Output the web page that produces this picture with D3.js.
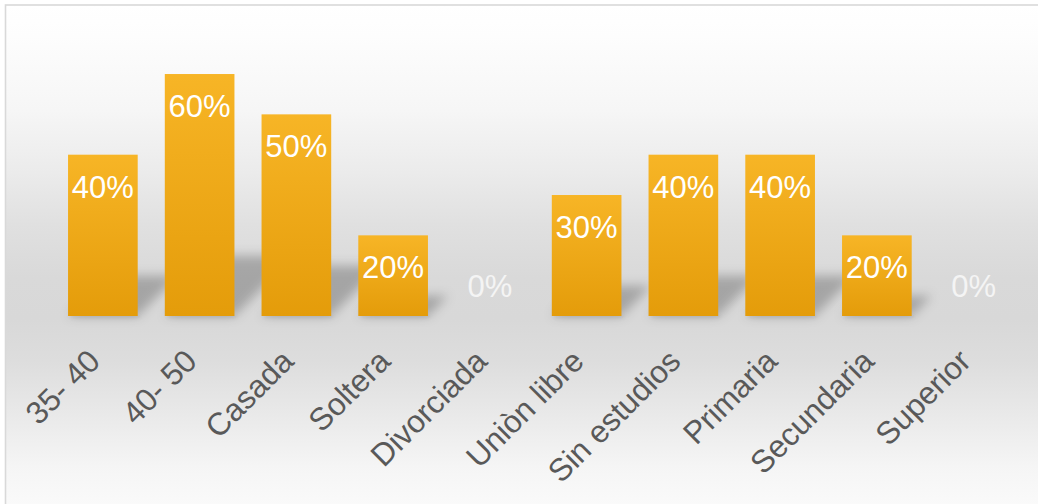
<!DOCTYPE html>
<html>
<head>
<meta charset="utf-8">
<script src="https://cdn.jsdelivr.net/npm/d3@7"></script>
<style>
  html, body { margin: 0; padding: 0; background: #ffffff; }
  svg { display: block; }
</style>
</head>
<body>
<svg id="chart" width="1038" height="504"></svg>
<script>
// Profile of the group: age, marital status and schooling (share of women)
const categories = ["35- 40", "40- 50", "Casada", "Soltera", "Divorciada",
                    "Uniòn libre", "Sin estudios", "Primaria", "Secundaria", "Superior"];
const values = [0.40, 0.60, 0.50, 0.20, 0.00, 0.30, 0.40, 0.40, 0.20, 0.00];
const valueLabels = ["40%", "60%", "50%", "20%", "0%", "30%", "40%", "40%", "20%", "0%"];

const svg = d3.select("#chart");
const W = 1038, H = 504;

const defs = svg.append("defs");

// chart area background: white at the top, grey band behind the bar bases, white again below
const bg = defs.append("linearGradient")
  .attr("id", "bgGrad").attr("x1", 0).attr("y1", 0).attr("x2", 0).attr("y2", 1);
[[0, "#ffffff"], [0.06, "#fdfdfd"], [0.2, "#f6f6f6"], [0.32, "#ebebeb"],
 [0.42, "#e0e0e0"], [0.52, "#d9d9d9"], [0.6, "#d8d8d8"], [0.68, "#dddddd"],
 [0.78, "#e9e9e9"], [0.88, "#f5f5f5"], [1, "#fdfdfd"]]
  .forEach(([o, c]) => bg.append("stop").attr("offset", o).attr("stop-color", c));

// bar fill: lighter orange at the top to deeper orange at the base
const barGrad = defs.append("linearGradient")
  .attr("id", "barGrad").attr("x1", 0).attr("y1", 0).attr("x2", 0).attr("y2", 1);
barGrad.append("stop").attr("offset", 0).attr("stop-color", "#f7b526");
barGrad.append("stop").attr("offset", 1).attr("stop-color", "#e49c0a");

const blur = defs.append("filter").attr("id", "softShadow")
  .attr("x", "-50%").attr("y", "-50%").attr("width", "200%").attr("height", "200%");
blur.append("feGaussianBlur").attr("stdDeviation", 5.5);

const blurSmall = defs.append("filter").attr("id", "baseShadow")
  .attr("x", "-20%").attr("y", "-200%").attr("width", "140%").attr("height", "500%");
blurSmall.append("feGaussianBlur").attr("stdDeviation", 1.5);

// background and frame
svg.append("rect")
  .attr("x", 5.5).attr("y", 5).attr("width", W + 20).attr("height", H + 20)
  .attr("fill", "url(#bgGrad)")
  .attr("stroke", "#d9d9d9").attr("stroke-width", 1.6);

// scales
const x = d3.scaleBand()
  .domain(categories)
  .range([54.5, 1022])
  .paddingInner(0.28)
  .paddingOuter(0.14);

const y = d3.scaleLinear()
  .domain([0, 0.7])
  .range([316, 33.7]);

const data = categories.map((c, i) => ({ cat: c, v: values[i], label: valueLabels[i] }));
const base = y(0);

// perspective shadows cast up and to the right of each bar
svg.append("g").selectAll("polygon")
  .data(data.filter(d => d.v > 0))
  .join("polygon")
  .attr("points", d => {
    const x0 = x(d.cat), x1 = x0 + x.bandwidth();
    const hs = (base - y(d.v)) * 0.25;
    const k = 1.0;
    return [[x0, base], [x1, base], [x1 + k * hs, base - hs], [x0 + k * hs, base - hs]]
      .map(p => p.join(",")).join(" ");
  })
  .attr("fill", "#000")
  .attr("fill-opacity", 0.24)
  .attr("filter", "url(#softShadow)");

// faint contact shadow under the bar bases
svg.append("g").selectAll("rect")
  .data(data.filter(d => d.v > 0))
  .join("rect")
  .attr("x", d => x(d.cat) + 2)
  .attr("y", base - 1)
  .attr("width", x.bandwidth())
  .attr("height", 3)
  .attr("fill", "#000")
  .attr("fill-opacity", 0.06)
  .attr("filter", "url(#baseShadow)");

// bars
svg.append("g").selectAll("rect")
  .data(data)
  .join("rect")
  .attr("x", d => x(d.cat))
  .attr("y", d => y(d.v))
  .attr("width", x.bandwidth())
  .attr("height", d => base - y(d.v))
  .attr("fill", "url(#barGrad)");

// value labels, inside the top of each bar (above the base for empty bars)
svg.append("g").selectAll("text")
  .data(data)
  .join("text")
  .attr("x", d => x(d.cat) + x.bandwidth() / 2)
  .attr("y", d => d.v > 0 ? y(d.v) + 43 : base - 19)
  .attr("text-anchor", "middle")
  .attr("font-family", "'Liberation Sans', Arial, sans-serif")
  .attr("font-size", 31)
  .attr("fill", d => d.v > 0 ? "#ffffff" : "#f4f4f4")
  .text(d => d.label);

// category axis with slanted labels
const xAxis = d3.axisBottom(x).tickSize(0).tickPadding(0);
const gx = svg.append("g")
  .attr("transform", `translate(0,${base})`)
  .call(xAxis);
gx.select(".domain").remove();
gx.selectAll(".tick text")
  .attr("font-family", "'Liberation Sans', Arial, sans-serif")
  .attr("font-size", 31.5)
  .attr("fill", "#595959")
  .attr("text-anchor", "end")
  .attr("dy", null)
  .attr("y", 0)
  .attr("transform", "translate(-1,47) rotate(-45)");
</script>
</body>
</html>
